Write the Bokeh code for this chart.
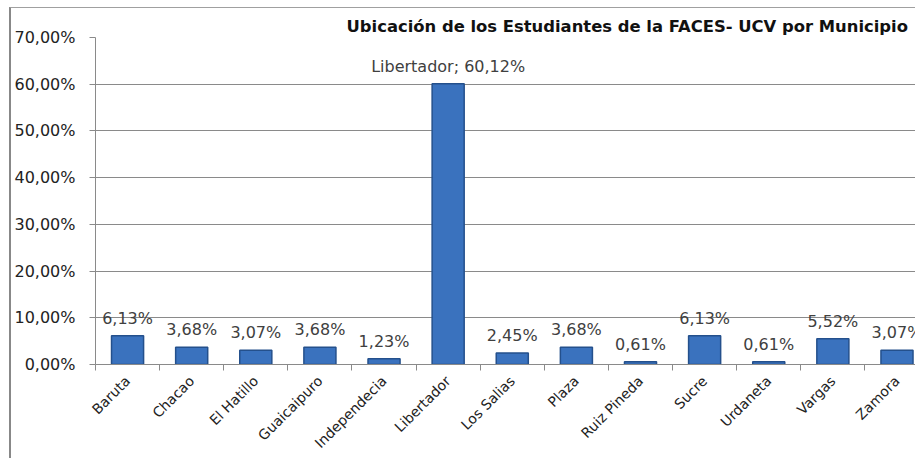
import math
from bokeh.plotting import figure
from bokeh.models import Range1d, FixedTicker, ColumnDataSource, LabelSet
from bokeh.core.properties import value
from bokeh.embed import file_html
from bokeh.resources import INLINE

categories = ["Baruta", "Chacao", "El Hatillo", "Guaicaipuro", "Independecia", "Libertador",
              "Los Salias", "Plaza", "Ruiz Pineda", "Sucre", "Urdaneta", "Vargas", "Zamora"]
values = [6.13, 3.68, 3.07, 3.68, 1.23, 60.12, 2.45, 3.68, 0.61, 6.13, 0.61, 5.52, 3.07]
value_labels = ["6,13%", "3,68%", "3,07%", "3,68%", "1,23%", "Libertador; 60,12%", "2,45%",
                "3,68%", "0,61%", "6,13%", "0,61%", "5,52%", "3,07%"]
y_ticks = [0, 10, 20, 30, 40, 50, 60, 70]
y_tick_labels = ["0,00%", "10,00%", "20,00%", "30,00%", "40,00%", "50,00%", "60,00%", "70,00%"]
title_text = "Ubicación de los Estudiantes de la FACES- UCV por Municipio"

FONT = "DejaVu Sans"
GREY = "#8a8a8a"

xs = list(range(len(categories)))
src = ColumnDataSource(dict(x=xs, top=values, lab=value_labels))

p = figure(width=906, height=451, output_backend="svg", toolbar_location=None,
           x_range=Range1d(-0.5, 12.32), y_range=Range1d(0, 70),
           min_border_left=83, min_border_right=0, min_border_top=29, min_border_bottom=95,
           title=title_text)
p.styles = {"margin-left": "9px", "margin-top": "7px",
            "border-top": "1px solid #a0a0a0", "border-left": "2px solid #888888"}
p.outline_line_color = None
p.background_fill_color = "white"
p.border_fill_color = "white"

p.title.text_font = FONT
p.title.text_font_size = "16.4px"
p.title.text_font_style = "bold"
p.title.text_color = "#111111"
p.title.align = "left"
p.title.offset = 251
p.title.standoff = 3

# bars
p.vbar(x="x", top="top", width=0.5, source=src, fill_color="#3A72BE", line_color="#24508C", line_width=1.5)

labels = LabelSet(x="x", y="top", text="lab", source=src, text_align="center", text_baseline="bottom",
                  y_offset=8, text_font=value(FONT), text_font_size="16px", text_color="#404040")
p.add_layout(labels)

# y axis
p.yaxis.ticker = FixedTicker(ticks=y_ticks)
p.yaxis.major_label_overrides = {t: l for t, l in zip(y_ticks, y_tick_labels)}
p.yaxis.major_label_text_font = FONT
p.yaxis.major_label_text_font_size = "16px"
p.yaxis.major_label_text_color = "#222222"
p.yaxis.major_label_standoff = 14
p.yaxis.axis_line_color = GREY
p.yaxis.major_tick_line_color = GREY
p.yaxis.major_tick_out = 6
p.yaxis.major_tick_in = 0
p.yaxis.minor_tick_line_color = None

# x axis
boundaries = [i - 0.5 for i in xs] + [xs[-1] + 0.5]
p.xaxis.ticker = FixedTicker(ticks=xs, minor_ticks=boundaries)
p.xaxis.major_label_overrides = {i: c for i, c in zip(xs, categories)}
p.xaxis.major_label_orientation = math.pi / 4
p.xaxis.major_label_text_font = FONT
p.xaxis.major_label_text_font_size = "14px"
p.xaxis.major_label_text_color = "#222222"
p.xaxis.major_tick_line_color = None
p.xaxis.minor_tick_line_color = GREY
p.xaxis.minor_tick_out = 6
p.xaxis.minor_tick_in = 0
p.xaxis.axis_line_color = GREY
p.xaxis.major_label_standoff = 8

p.xgrid.grid_line_color = None
p.ygrid.ticker = FixedTicker(ticks=y_ticks)
p.ygrid.grid_line_color = GREY
p.ygrid.grid_line_width = 1

open("out.html", "w").write(file_html(p, INLINE))
